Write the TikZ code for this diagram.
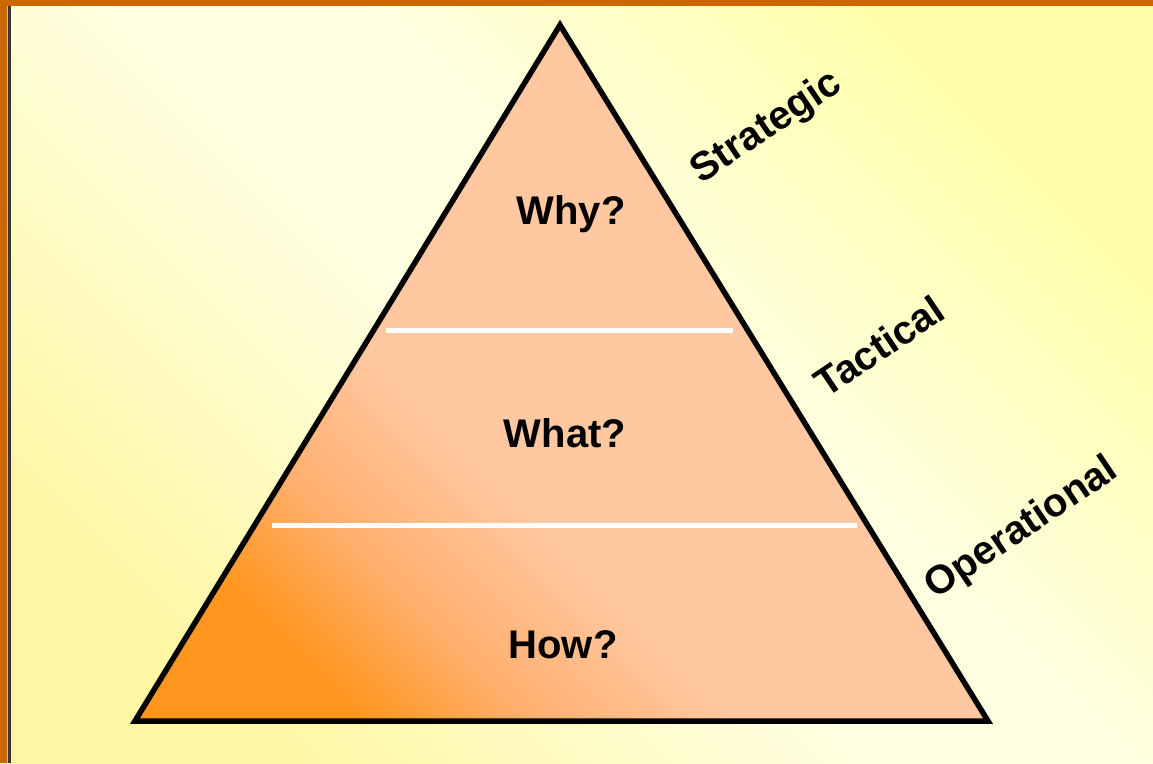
\documentclass[tikz,border=0pt]{standalone}
\usepackage{fontspec}
\setmainfont{Liberation Sans}
\definecolor{bgY}{HTML}{FFFFAA}
\definecolor{bgYL}{HTML}{FFF7A4}
\definecolor{bgP}{HTML}{FFFFE2}
\definecolor{triO}{HTML}{FF961E}
\definecolor{triM}{HTML}{FFB070}
\definecolor{triP}{HTML}{FFC8A0}
\definecolor{frameO}{HTML}{CC6600}
\pgfdeclarehorizontalshading{bgshade}{100bp}{color(0bp)=(bgYL); color(25bp)=(bgYL); color(47bp)=(bgP); color(56bp)=(bgP); color(75bp)=(bgY); color(100bp)=(bgY)}
\pgfdeclarehorizontalshading{trishade}{100bp}{color(0bp)=(triO); color(25bp)=(triO); color(33bp)=(triM); color(42bp)=(triP); color(75bp)=(triP); color(100bp)=(triP)}
\tikzset{
  level/.style={font=\bfseries\fontsize{40}{48}\selectfont, text=black},
  side/.style={font=\bfseries\fontsize{40}{48}\selectfont, text=black, rotate=34},
  divider/.style={draw=white, line width=5pt},
  edge/.style={draw=black, line width=5.5pt, line join=miter}
}
\begin{document}
\begin{tikzpicture}[x=1pt,y=1pt]
\useasboundingbox (0,0) rectangle (1153,763);
% background
\shade[shading=bgshade, shading angle=45] (0,0) rectangle (1153,763);
% frame
\fill[frameO] (0,0) rectangle (7,763);
\fill[frameO] (0,757) rectangle (1153,763);
\fill[black!25] (7,0) rectangle (8,757);
\fill[black!78] (8,0) rectangle (11,757);
% triangle
\coordinate (apex) at (560,738);
\coordinate (bl) at (135,42);
\coordinate (br) at (988,42);
\shade[shading=trishade, shading angle=45] (apex) -- (bl) -- (br) -- cycle;
\path[edge] (apex) -- (bl) -- (br) -- cycle;
% dividers
\coordinate (d1l) at (386,432);
\coordinate (d1r) at (733,432);
\coordinate (d2l) at (272,237);
\coordinate (d2r) at (857,237);
\path[divider] (d1l) -- (d1r);
\path[divider] (d2l) -- (d2r);
% level texts
\node[level, anchor=base] (why) at (571,538) {Why?};
\node[level, anchor=base] (what) at (565,315) {What?};
\node[level, anchor=base] (how) at (563,105) {How?};
% side labels
\node[side] (strat) at (767,635) {Strategic};
\node[side] (tact) at (879,417) {Tactical};
\node[side] (oper) at (1022,234) {Operational};
\end{tikzpicture}
\end{document}
